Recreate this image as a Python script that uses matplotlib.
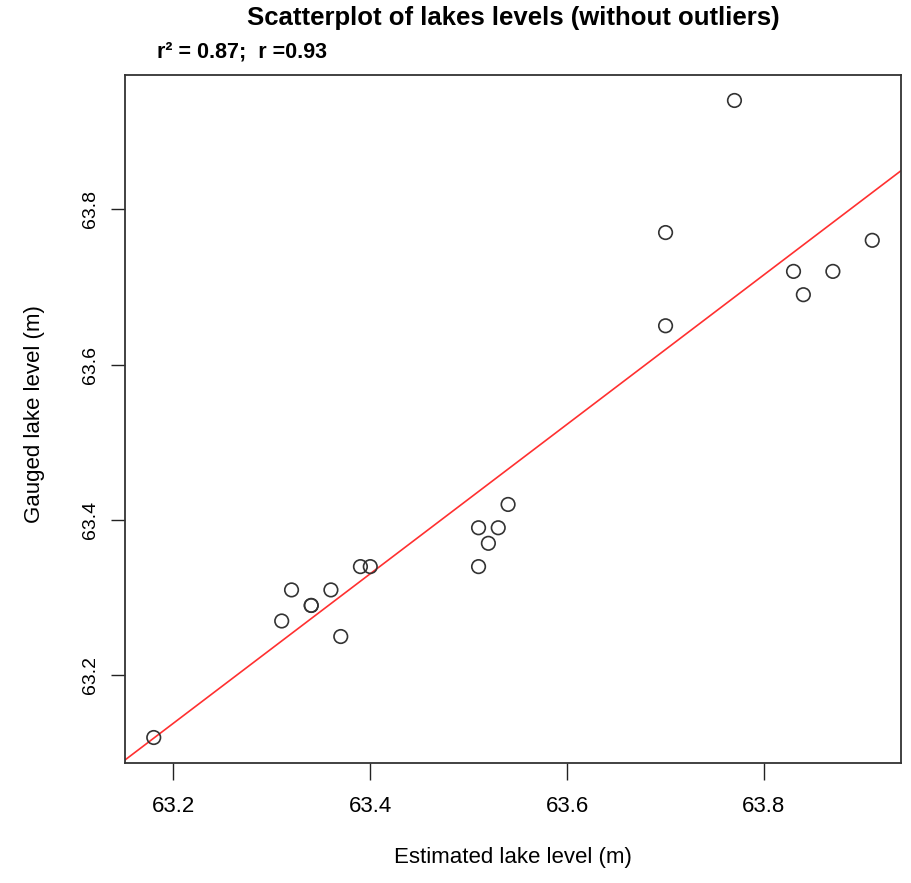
import matplotlib.pyplot as plt
import numpy as np

plt.rcParams['font.family'] = ['Liberation Sans', 'DejaVu Sans']

# estimated vs gauged lake levels (m)
estimated = [63.18, 63.31, 63.32, 63.34, 63.34, 63.36, 63.37, 63.39, 63.40,
             63.51, 63.51, 63.52, 63.53, 63.54, 63.70, 63.70, 63.77,
             63.83, 63.84, 63.87, 63.91]
gauged = [63.12, 63.27, 63.31, 63.29, 63.29, 63.31, 63.25, 63.34, 63.34,
          63.34, 63.39, 63.37, 63.39, 63.42, 63.65, 63.77, 63.94,
          63.72, 63.69, 63.72, 63.76]
ticks = [63.2, 63.4, 63.6, 63.8]
stats_label = 'r\u00b2 = 0.87;  r =0.93'

x = np.array(estimated)
y = np.array(gauged)

fig = plt.figure(figsize=(9.11, 8.83), dpi=100)
ax = fig.add_axes([125/911, 1 - 763/883, 776/911, 688/883])

ax.scatter(x, y, s=95, facecolors='none', edgecolors='#333333', linewidths=1.2, zorder=3)

# R style axis range: data range + 4%
xpad = (x.max() - x.min()) * 0.04
ypad = (y.max() - y.min()) * 0.04
ax.set_xlim(x.min() - xpad, x.max() + xpad)
ax.set_ylim(y.min() - ypad, y.max() + ypad)

# regression line, like abline(lm(y ~ x))
slope, intercept = np.polyfit(x, y, 1)
xl = np.array(ax.get_xlim())
ax.plot(xl, intercept + slope * xl, color='#ff3030', lw=1.2, zorder=2)

ax.set_xticks(ticks)
ax.set_yticks(ticks)
ax.set_xticklabels([str(t) for t in ticks], fontsize=16)
ax.set_yticklabels([str(t) for t in ticks], fontsize=14, rotation=90, va='center')
ax.tick_params(axis='x', length=12, width=1, color='#222222', pad=12)
ax.tick_params(axis='y', length=10, width=1, color='#222222', pad=9)

for s in ax.spines.values():
    s.set_color('#333333')
    s.set_linewidth(1.3)

fig.text(513/911, 1 - 858/883, 'Estimated lake level (m)', ha='center', va='center', fontsize=16)
fig.text(35/911, 1 - 414/883, 'Gauged lake level (m)', ha='center', va='center',
         fontsize=16, rotation=90)

fig.text(513/911, 1 - 18/883, 'Scatterplot of lakes levels (without outliers)',
         ha='center', va='center', fontsize=18.5, fontweight='bold')
fig.text(157/911, 1 - 52/883, stats_label, ha='left', va='center',
         fontsize=15.5, fontweight='bold')

fig.savefig('out.png', dpi=100)
